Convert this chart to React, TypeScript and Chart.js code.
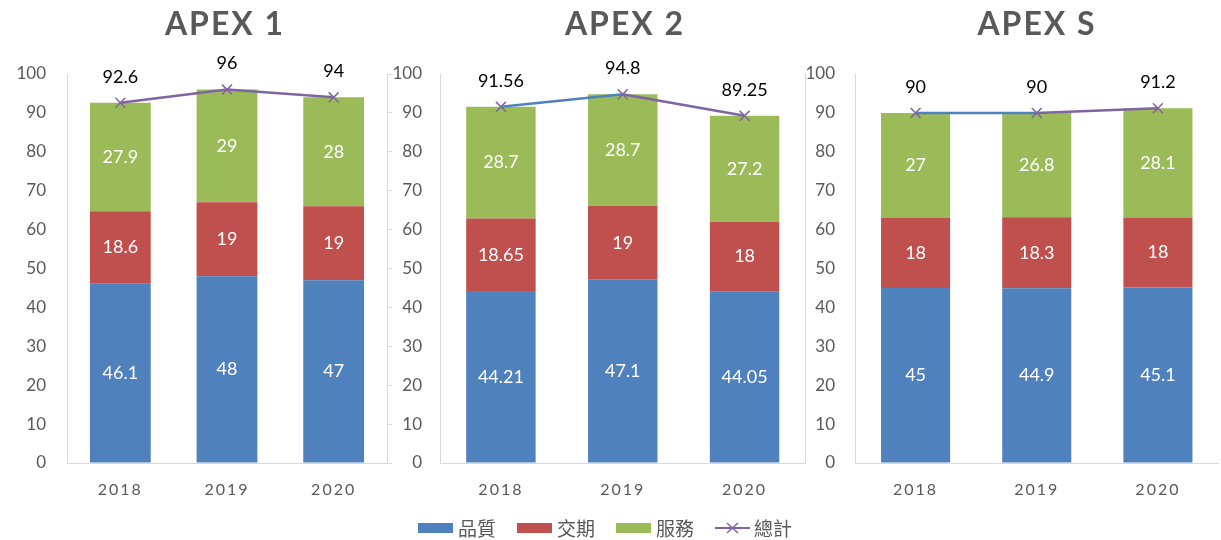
import React, { useEffect, useRef } from 'react';
import { Chart, registerables } from 'chart.js';

Chart.register(...registerables);

const years = ['2018', '2019', '2020'];
const seriesNames = ['品質', '交期', '服務', '總計'];
const panelTitles = ['APEX 1', 'APEX 2', 'APEX S'];

const apex1Quality = [46.1, 48, 47];
const apex1Delivery = [18.6, 19, 19];
const apex1Service = [27.9, 29, 28];
const apex1Total = [92.6, 96, 94];

const apex2Quality = [44.21, 47.1, 44.05];
const apex2Delivery = [18.65, 19, 18];
const apex2Service = [28.7, 28.7, 27.2];
const apex2Total = [91.56, 94.8, 89.25];

const apexSQuality = [45, 44.9, 45.1];
const apexSDelivery = [18, 18.3, 18];
const apexSService = [27, 26.8, 28.1];
const apexSTotal = [90, 90, 91.2];

const yMin = 0;
const yMax = 100;
const yStep = 10;

const BLUE = '#4F81BD';
const RED = '#C0504D';
const GREEN = '#9BBB59';
const PURPLE = '#8064A2';
const AXIS = '#D9D9D9';
const TEXT = '#595959';

Chart.defaults.font.family = 'Lato';

const labelPlugin = {
  id: 'valueLabels',
  afterDatasetsDraw(chart: any) {
    const ctx = chart.ctx;
    ctx.save();
    ctx.textAlign = 'center';
    ctx.textBaseline = 'middle';
    ctx.font = '18px Lato';
    chart.data.datasets.forEach((ds: any, i: number) => {
      const meta = chart.getDatasetMeta(i);
      meta.data.forEach((el: any, j: number) => {
        const v = ds.data[j];
        if (ds.type === 'line') {
          ctx.fillStyle = '#000000';
          ctx.fillText(String(v), el.x, el.y - 26);
        } else {
          const p = el.getProps(['x', 'y', 'base'], true);
          ctx.fillStyle = '#FFFFFF';
          ctx.fillText(String(v), p.x, (p.y + p.base) / 2);
        }
      });
    });
    ctx.restore();
    ctx.letterSpacing = '2px';
  },
  afterDraw(chart: any) {
    chart.ctx.letterSpacing = '0px';
  },
};

type PanelProps = {
  left: number;
  width: number;
  yWidth: number;
  yPad: number;
  rightAxis: 'ticks' | 'line' | 'none';
  y2Width: number;
  quality: number[];
  delivery: number[];
  service: number[];
  total: number[];
  firstSegBlue: boolean;
};

const CANVAS_H = 503;

function Panel(props: PanelProps) {
  const ref = useRef<HTMLCanvasElement | null>(null);
  useEffect(() => {
    if (!ref.current) return;
    const { yWidth, yPad, rightAxis, y2Width, firstSegBlue } = props;
    const chart = new Chart(ref.current, {
      type: 'bar',
      data: {
        labels: years,
        datasets: [
          {
            type: 'bar',
            label: seriesNames[0],
            data: props.quality,
            backgroundColor: BLUE,
            borderWidth: 0,
            categoryPercentage: 1,
            barPercentage: 0.57,
            order: 1,
          },
          {
            type: 'bar',
            label: seriesNames[1],
            data: props.delivery,
            backgroundColor: RED,
            borderWidth: 0,
            categoryPercentage: 1,
            barPercentage: 0.57,
            order: 1,
          },
          {
            type: 'bar',
            label: seriesNames[2],
            data: props.service,
            backgroundColor: GREEN,
            borderWidth: 0,
            categoryPercentage: 1,
            barPercentage: 0.57,
            order: 1,
          },
          {
            type: 'line',
            label: seriesNames[3],
            data: props.total,
            borderColor: PURPLE,
            borderWidth: 2.5,
            pointStyle: 'crossRot',
            pointRadius: 7,
            pointBorderColor: PURPLE,
            pointBorderWidth: 1.5,
            fill: false,
            tension: 0,
            order: 0,
            segment: {
              borderColor: (c: any) => (firstSegBlue && c.p0DataIndex === 0 ? BLUE : undefined),
            },
          } as any,
        ],
      },
      options: {
        responsive: false,
        maintainAspectRatio: false,
        animation: false,
        layout: { padding: { top: 74, left: 0, right: 0, bottom: 0 } },
        plugins: {
          legend: { display: false },
          tooltip: { enabled: false },
          title: { display: false },
        },
        scales: {
          x: {
            stacked: true,
            grid: { display: true, drawOnChartArea: false, drawTicks: false },
            border: { display: true, color: AXIS, width: 1 },
            ticks: { color: TEXT, font: { family: 'Lato', size: 16 }, padding: 17, z: 1 } as any,
            afterFit: (s: any) => {
              s.height = 40;
            },
          },
          y: {
            stacked: true,
            min: yMin,
            max: yMax,
            ticks: { stepSize: yStep, color: TEXT, font: { family: 'Lato', size: 17 }, padding: yPad },
            grid: { display: true, drawOnChartArea: false, drawTicks: false },
            border: { display: true, color: AXIS, width: 1 },
            afterFit: (s: any) => {
              s.width = yWidth;
            },
          },
          y2: {
            position: 'right',
            display: rightAxis !== 'none',
            min: yMin,
            max: yMax,
            ticks: { display: false, stepSize: yStep },
            grid: {
              display: true,
              drawOnChartArea: false,
              drawTicks: rightAxis === 'ticks',
              tickLength: 5,
              color: AXIS,
            },
            border: { display: true, color: AXIS, width: 1 },
            afterFit: (s: any) => {
              s.width = y2Width;
            },
          },
        },
      } as any,
      plugins: [labelPlugin],
    });
    return () => chart.destroy();
  }, []);
  return (
    <canvas
      ref={ref}
      width={props.width}
      height={CANVAS_H}
      style={{ position: 'absolute', left: props.left, top: 0, width: props.width, height: CANVAS_H }}
    />
  );
}

function Title({ text, center }: { text: string; center: number }) {
  return (
    <div
      style={{
        position: 'absolute',
        left: center - 150,
        top: 3,
        width: 300,
        textAlign: 'center',
        fontFamily: 'Lato',
        fontWeight: 700,
        fontSize: 32,
        letterSpacing: '2px',
        color: TEXT,
        lineHeight: '40px',
      }}
    >
      {text}
    </div>
  );
}

function LegendBox({ color, label, gap }: { color: string; label: string; gap: number }) {
  return (
    <div style={{ display: 'flex', alignItems: 'center', marginRight: gap }}>
      <span style={{ display: 'inline-block', width: 35, height: 10, background: color, marginRight: 5 }} />
      <span>{label}</span>
    </div>
  );
}

export default function App() {
  return (
    <div
      style={{
        position: 'absolute',
        left: 0,
        top: 0,
        width: 1221,
        height: 540,
        overflow: 'hidden',
        background: '#FFFFFF',
      }}
    >
      <Panel
        left={0}
        width={400}
        yWidth={67}
        yPad={21}
        rightAxis="ticks"
        y2Width={13}
        quality={apex1Quality}
        delivery={apex1Delivery}
        service={apex1Service}
        total={apex1Total}
        firstSegBlue={false}
      />
      <Panel
        left={387}
        width={427}
        yWidth={53}
        yPad={18}
        rightAxis="line"
        y2Width={2}
        quality={apex2Quality}
        delivery={apex2Delivery}
        service={apex2Service}
        total={apex2Total}
        firstSegBlue={true}
      />
      <Panel
        left={790}
        width={437}
        yWidth={65}
        yPad={20}
        rightAxis="none"
        y2Width={0}
        quality={apexSQuality}
        delivery={apexSDelivery}
        service={apexSService}
        total={apexSTotal}
        firstSegBlue={true}
      />
      <Title text={panelTitles[0]} center={225} />
      <Title text={panelTitles[1]} center={625} />
      <Title text={panelTitles[2]} center={1037} />
      <div
        style={{
          position: 'absolute',
          left: 418,
          top: 515,
          height: 26,
          display: 'flex',
          alignItems: 'center',
          fontFamily: '"Noto Sans CJK TC"',
          fontSize: 19,
          color: TEXT,
          lineHeight: '26px',
        }}
      >
        <LegendBox color={BLUE} label={seriesNames[0]} gap={21} />
        <LegendBox color={RED} label={seriesNames[1]} gap={21} />
        <LegendBox color={GREEN} label={seriesNames[2]} gap={21} />
        <div style={{ display: 'flex', alignItems: 'center' }}>
          <svg width={35} height={14} style={{ marginRight: 4 }}>
            <line x1={0} y1={7} x2={35} y2={7} stroke={PURPLE} strokeWidth={2} />
            <line x1={12} y1={2} x2={23} y2={12} stroke={PURPLE} strokeWidth={1.5} />
            <line x1={12} y1={12} x2={23} y2={2} stroke={PURPLE} strokeWidth={1.5} />
          </svg>
          <span>{seriesNames[3]}</span>
        </div>
      </div>
    </div>
  );
}
